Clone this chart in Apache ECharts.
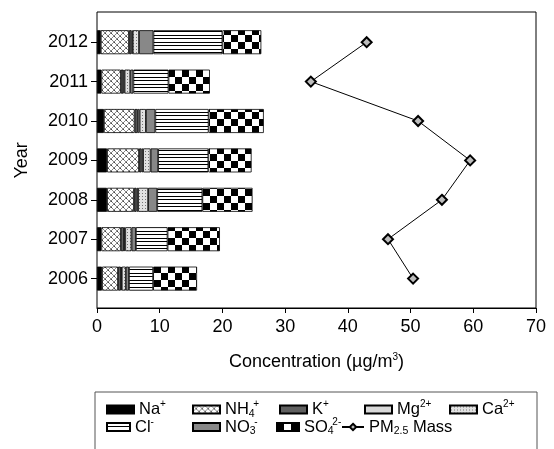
<!DOCTYPE html>
<html><head><meta charset="utf-8">
<script src="https://cdn.jsdelivr.net/npm/echarts@6/dist/echarts.min.js"></script>
<style>html,body{margin:0;padding:0;background:#fff}#c{width:554px;height:449px}</style>
</head><body><div id="c"></div>
<script>
const years = ['2006','2007','2008','2009','2010','2011','2012'];
const na  = [0.8, 0.7, 1.6, 1.6, 1.1, 0.7, 0.6];
const nh4 = [2.55, 3.1, 4.3, 5.1, 4.9, 3.1, 4.5];
const k   = [0.45, 0.5, 0.4, 0.4, 0.5, 0.4, 0.4];
const mg  = [0.15, 0.2, 0.25, 0.25, 0.3, 0.2, 0.2];
const ca  = [0.65, 1.0, 1.6, 1.2, 1.0, 0.9, 1.0];
const no3 = [0.5, 0.7, 1.45, 1.2, 1.5, 0.5, 2.3];
const cl  = [3.85, 5.05, 7.2, 8.0, 8.5, 5.6, 11.0];
const so4 = [7.0, 8.35, 8.0, 6.9, 8.8, 6.6, 6.2];
const pm  = [50.4, 46.4, 55.0, 59.5, 51.2, 34.1, 43.0];
const xTicks = [0, 10, 20, 30, 40, 50, 60, 70];

function pat(w, h, draw) {
  const c = document.createElement('canvas'); c.width = w; c.height = h;
  const g = c.getContext('2d'); draw(g, w, h);
  return { image: c, repeat: 'repeat' };
}
const checker = pat(14, 14, (g) => { g.fillStyle = '#fff'; g.fillRect(0,0,14,14); g.fillStyle = '#000'; g.fillRect(0,0,7,7); g.fillRect(7,7,7,7); });
const hlines = pat(4, 7, (g) => { g.fillStyle = '#fff'; g.fillRect(0,0,4,7); g.fillStyle = '#000'; g.fillRect(0,0,4,1); g.fillRect(0,3,4,1); });
const weave = pat(6, 6, (g) => {
  g.fillStyle = '#fff'; g.fillRect(0,0,6,6);
  g.strokeStyle = '#888'; g.lineWidth = 1;
  g.beginPath(); g.moveTo(0,0); g.lineTo(6,6); g.moveTo(6,0); g.lineTo(0,6); g.stroke();
  g.fillStyle = '#444'; g.fillRect(0,0,1,1); g.fillRect(3,3,1,1);
});
const dots = pat(3, 3, (g) => { g.fillStyle = '#e2e2e2'; g.fillRect(0,0,3,3); g.fillStyle = '#777'; g.fillRect(1,1,1,1); });

const FONT = 'Liberation Sans, Arial, sans-serif';
const FS = 18;
const LFS = 16.5;
const rich = {
  sup: { fontSize: 10, lineHeight: 6, verticalAlign: 'top', fontFamily: FONT, color: '#000' },
  sub: { fontSize: 10.5, lineHeight: 6, verticalAlign: 'bottom', fontFamily: FONT, color: '#000' },
  ss: { fontSize: 10.5, lineHeight: 6, width: 4.5, verticalAlign: 'bottom', fontFamily: FONT, color: '#000' }
};

const barDefs = [
  ['Na+', na, '#000'],
  ['NH4+', nh4, weave],
  ['K+', k, '#606060'],
  ['Mg2+', mg, '#d9d9d9'],
  ['Ca2+', ca, dots],
  ['NO3-', no3, '#888888'],
  ['Cl-', cl, hlines],
  ['SO42-', so4, checker]
];
const labels = {
  'Na+': 'Na{sup|+}', 'NH4+': 'NH{ss|4}{sup|+}', 'K+': 'K{sup|+}', 'Mg2+': 'Mg{sup|2+}',
  'Ca2+': 'Ca{sup|2+}', 'Cl-': 'Cl{sup|-}', 'NO3-': 'NO{ss|3}{sup|-}', 'SO42-': 'SO{ss|4}{sup|2-}',
  'PM2.5 Mass': 'PM{sub|2.5} Mass'
};

const series = barDefs.map(([name, data, color]) => ({
  name, type: 'bar', stack: 'total', xAxisIndex: 1, yAxisIndex: 1,
  barWidth: 24, data,
  itemStyle: { color, borderColor: '#000', borderWidth: 0.8 }
}));
series.push({
  name: 'PM2.5 Mass', type: 'line', xAxisIndex: 1, yAxisIndex: 1, data: pm, z: 5,
  symbol: 'diamond', symbolSize: 10,
  itemStyle: { color: '#bdbdbd', borderColor: '#000', borderWidth: 2 },
  lineStyle: { color: '#000', width: 1 }
});

const legPos = [
  ['Na+', 101, 0, 27], ['NH4+', 187, 0, 27], ['K+', 274, 0, 27], ['Mg2+', 359, 0, 27], ['Ca2+', 444, 0, 27],
  ['Cl-', 101, 1, 23], ['NO3-', 187, 1, 27], ['SO42-', 271, 1, 22], ['PM2.5 Mass', 336, 1, 22]
];
const legends = legPos.map(([name, left, row, w]) => ({
  data: [name], left, top: row === 0 ? 394.5 : 412, orient: 'horizontal',
  itemWidth: w, itemHeight: 8, itemGap: 5,
  icon: name === 'PM2.5 Mass' ? undefined : 'rect',
  selectedMode: false,
  formatter: (n) => labels[n],
  textStyle: { fontSize: LFS, lineHeight: 20, fontFamily: FONT, color: '#000', rich }
}));

const chart = echarts.init(document.getElementById('c'), null, { renderer: 'canvas' });
chart.setOption({
  animation: false,
  textStyle: { fontFamily: FONT },
  grid: [
    { left: 97, right: 18, top: 12, bottom: 141, show: true, borderColor: '#000', borderWidth: 1, backgroundColor: 'transparent' },
    { left: 97, right: 18, top: 22.5, height: 275.8 }
  ],
  xAxis: [
    { type: 'value', gridIndex: 0, min: 0, max: 70, interval: 10,
      axisLine: { show: true, lineStyle: { color: '#000' } },
      axisTick: { show: true, length: 5, lineStyle: { color: '#000' } },
      splitLine: { show: false },
      axisLabel: { fontSize: FS, color: '#000', margin: 10, fontFamily: FONT,
        formatter: (v) => xTicks.includes(v) ? String(v) : '' },
      name: 'Concentration (µg/m{sup|3})', nameLocation: 'middle', nameGap: 44,
      nameTextStyle: { fontSize: FS, lineHeight: 20, color: '#000', fontFamily: FONT, rich } },
    { type: 'value', gridIndex: 1, min: 0, max: 70, show: false }
  ],
  yAxis: [
    { type: 'value', gridIndex: 0, show: false, min: 0, max: 1 },
    { type: 'category', gridIndex: 1, data: years,
      axisLine: { show: false },
      axisTick: { show: true, length: 6, alignWithLabel: true, lineStyle: { color: '#000' } },
      axisLabel: { fontSize: FS, color: '#000', margin: 9, fontFamily: FONT },
      name: 'Year', nameLocation: 'middle', nameGap: 66, nameRotate: 90,
      nameTextStyle: { fontSize: FS, color: '#000', fontFamily: FONT } }
  ],
  legend: legends,
  graphic: [{ type: 'rect', shape: { x: 95, y: 392, width: 442, height: 80 },
    style: { fill: 'none', stroke: '#555', lineWidth: 1 }, silent: true, z: -1 }],
  series
});
</script></body></html>
